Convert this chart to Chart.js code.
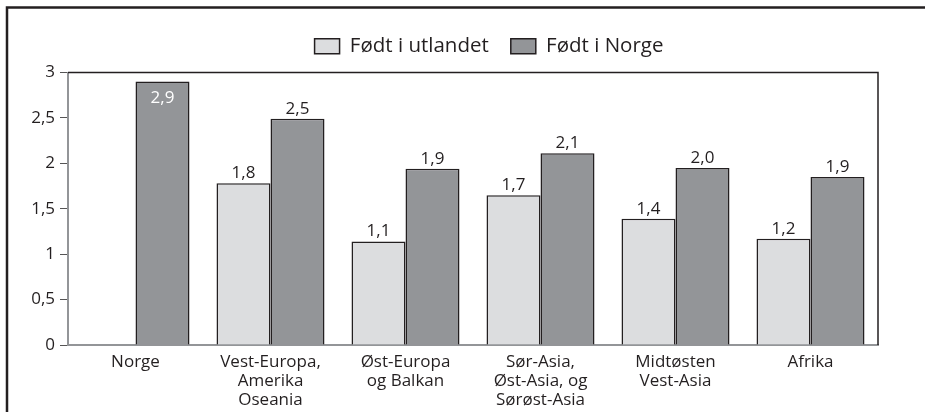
<!DOCTYPE html>
<html>
<head>
<meta charset="utf-8">
<script src="https://cdn.jsdelivr.net/npm/chart.js@4"></script>
<style>
  html, body { margin: 0; padding: 0; background: #fff; }
  #wrap { position: relative; width: 925px; height: 412px; }
</style>
</head>
<body>
<div id="wrap"><canvas id="myChart" width="925" height="412"></canvas></div>
<script>
// categories and values
const regions = ['Norge', ['Vest-Europa,', 'Amerika', 'Oseania'], ['Øst-Europa', 'og Balkan'],
  ['Sør-Asia,', 'Øst-Asia, og', 'Sørøst-Asia'], ['Midtøsten', 'Vest-Asia'], 'Afrika'];
const seriesNames = ['Født i utlandet', 'Født i Norge'];
const bornAbroad = [null, 1.78, 1.14, 1.65, 1.39, 1.17];
const bornNorway = [2.9, 2.49, 1.94, 2.11, 1.95, 1.85];
// printed labels (rounded in the source)
const bornAbroadText = [null, '1,8', '1,1', '1,7', '1,4', '1,2'];
const bornNorwayText = ['2,9', '2,5', '1,9', '2,1', '2,0', '1,9'];
const yTicks = [0, 0.5, 1, 1.5, 2, 2.5, 3];

const ink = '#231f20';
const font = 'Open Sans';

// frame around the figure, dark top/right edges of the plot box, and value labels
const decor = {
  id: 'decor',
  afterLayout(chart) {
    // legend sits a bit right of centre and higher in the original
    const lg = chart.legend;
    lg.left += 50;
    lg.right += 50;
    lg.top -= 6;
    lg.bottom -= 6;
  },
  beforeDraw(chart) {
    const c = chart.ctx;
    c.save();
    c.strokeStyle = ink;
    c.lineWidth = 2.5;
    c.beginPath();
    c.moveTo(7, 420);
    c.lineTo(7, 7.5);
    c.lineTo(930, 7.5);
    c.stroke();
    c.restore();
  },
  afterDatasetsDraw(chart) {
    const c = chart.ctx;
    const a = chart.chartArea;
    c.save();
    c.strokeStyle = ink;
    c.lineWidth = 1.5;
    c.beginPath();
    c.moveTo(a.left, a.top);
    c.lineTo(a.right, a.top);
    c.lineTo(a.right, a.bottom);
    c.stroke();

    const texts = [bornAbroadText, bornNorwayText];
    c.font = '17px "' + font + '"';
    c.textAlign = 'center';
    c.textBaseline = 'alphabetic';
    chart.data.datasets.forEach((ds, i) => {
      chart.getDatasetMeta(i).data.forEach((bar, j) => {
        const t = texts[i][j];
        if (!t) return;
        if (bar.y - 22 < a.top) {
          c.fillStyle = '#fff';
          c.fillText(t, bar.x, bar.y + 21);
        } else {
          c.fillStyle = ink;
          c.fillText(t, bar.x, bar.y - 5);
        }
      });
    });
    c.restore();
  }
};

new Chart(document.getElementById('myChart'), {
  type: 'bar',
  data: {
    labels: regions,
    datasets: [{
      label: seriesNames[0],
      data: bornAbroad,
      backgroundColor: '#dcdddf',
      borderColor: ink,
      borderWidth: 1.5
    }, {
      label: seriesNames[1],
      data: bornNorway,
      backgroundColor: '#939598',
      borderColor: ink,
      borderWidth: 1.5
    }]
  },
  options: {
    responsive: false,
    animation: false,
    categoryPercentage: 0.8,
    barPercentage: 1.0,
    layout: { padding: { left: 0, right: 47, top: 20, bottom: 0 } },
    scales: {
      x: {
        grid: { display: false },
        border: { color: '#939598', width: 2 },
        ticks: { color: ink, font: { family: font, size: 17, lineHeight: 1.12 }, maxRotation: 0, autoSkip: false, padding: 0 },
        afterFit(s) { s.height = 67; }
      },
      y: {
        min: 0,
        max: 3,
        afterBuildTicks(s) { s.ticks = yTicks.map(v => ({ value: v })); },
        grid: { display: true, drawOnChartArea: false, drawTicks: true, tickLength: 8, color: '#555', lineWidth: 1 },
        border: { color: '#939598', width: 2 },
        ticks: {
          color: ink,
          padding: 5,
          font: { family: font, size: 17 },
          callback: v => String(v).replace('.', ',')
        },
        afterFit(s) { s.width = 68; }
      }
    },
    plugins: {
      legend: {
        position: 'top',
        labels: {
          color: ink,
          boxWidth: 25,
          boxHeight: 15,
          padding: 22,
          font: { family: font, size: 20.5 }
        }
      },
      tooltip: { enabled: false }
    }
  },
  plugins: [decor]
});
</script>
</body>
</html>
